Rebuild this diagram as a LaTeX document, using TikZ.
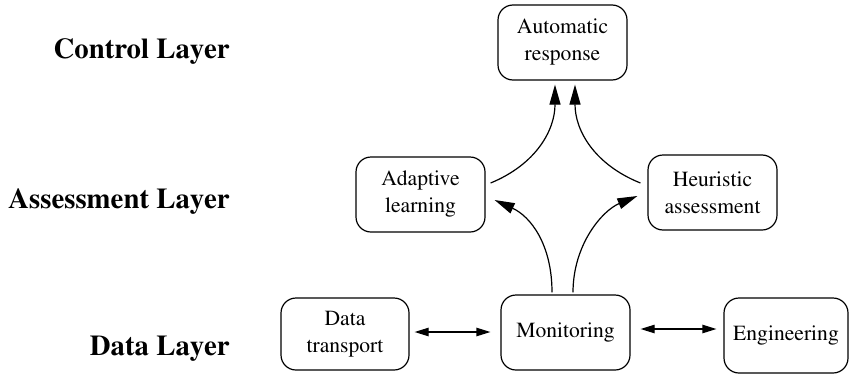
\documentclass[tikz,border=0pt]{standalone}
\usepackage[T1]{fontenc}
\usepackage{mathptmx}
\usetikzlibrary{arrows.meta,calc}
\begin{document}
\begin{tikzpicture}[x=0.5pt,y=-0.5pt,
  box/.style={draw,rounded corners=7.5pt,line width=0.6pt,align=center,
    inner sep=0pt,font=\fontsize{10.8}{13.5}\selectfont},
  layer/.style={anchor=base east,inner sep=0pt,font=\fontsize{14.4}{16}\selectfont\bfseries},
  curv/.style={line width=0.6pt,-{Triangle[length=10pt,width=5.5pt]}},
  twoway/.style={line width=0.6pt,{Triangle[length=7pt,width=4.2pt]}-{Triangle[length=7pt,width=4.2pt]}}]
\useasboundingbox (0,0) rectangle (849,375);

% layer captions
\node[layer] (lc) at (230,58) {Control Layer};
\node[layer] (la) at (230,208) {Assessment Layer};
\node[layer] (ld) at (230,355) {Data Layer};

% components
\node[box,minimum width=64.5pt,minimum height=37.5pt] (ar) at (562.5,42.5) {Automatic\\response};
\node[box,minimum width=64.5pt,minimum height=37.5pt] (al) at (420.5,194.5) {Adaptive\\learning};
\node[box,minimum width=64.5pt,minimum height=37.5pt] (ha) at (712.5,192.5) {Heuristic\\assessment};
\node[box,minimum width=64pt,minimum height=36pt] (dt) at (345,334) {Data\\transport};
\node[box,minimum width=64.5pt,minimum height=37.5pt] (mo) at (565.5,332.5) {Monitoring};
\node[box,minimum width=62pt,minimum height=37.5pt] (en) at (786,335.5) {Engineering};

% escalation to the control layer
\draw[curv] ($(al.east)+(5,-11.5)$) .. controls ($(al.east)+(50,-30)$) and ($(ar.south)+(-7.5,50)$) .. ($(ar.south)+(-7.5,4)$);
\draw[curv] ($(ha.west)+(-7,-9.5)$) .. controls ($(ha.west)+(-53,-28)$) and ($(ar.south)+(12.5,50)$) .. ($(ar.south)+(12.5,4)$);

% monitoring feeds the assessment layer
\draw[curv] ($(mo.north)+(-13.5,-2)$) .. controls ($(mo.north)+(-13.5,-50)$) and ($(al.east)+(45,22)$) .. ($(al.east)+(9,5.5)$);
\draw[curv] ($(mo.north)+(7.5,-2)$) .. controls ($(mo.north)+(7.5,-50)$) and ($(ha.west)+(-45,18)$) .. ($(ha.west)+(-10,3.5)$);

% data layer links
\draw[twoway] ($(dt.east)+(5,-2)$) -- ($(mo.west)+(-10,-0.5)$);
\draw[twoway] ($(mo.east)+(10,-3.5)$) -- ($(en.west)+(-7,-6.5)$);
\end{tikzpicture}
\end{document}
